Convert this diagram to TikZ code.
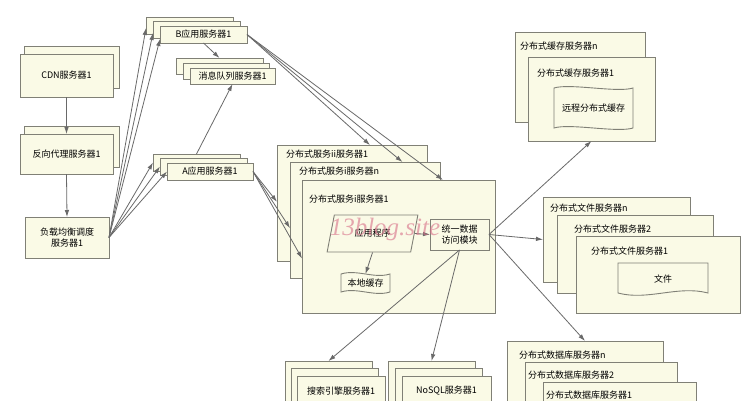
\documentclass[tikz,border=0pt]{standalone}
\usepackage{fontspec}
\setmainfont{Noto Sans CJK SC}
\newfontfamily\wmfont{Liberation Serif}
\usetikzlibrary{arrows.meta,shapes.geometric,calc}
\definecolor{cream}{RGB}{250,250,230}
\definecolor{edgec}{RGB}{128,128,118}
\definecolor{arrc}{RGB}{105,105,105}
\definecolor{wmc}{RGB}{215,110,135}
\newcommand\rbox[6]{\node[box,minimum width=#4pt,minimum height=#5pt] (#1) at (#2,#3) {#6};}
\newcommand\tapeshape[1]{\draw[outl] (#1.north west) .. controls +(16,-5) and +(-16,5) .. (#1.north east) -- (#1.south east) .. controls +(-16,5) and +(16,-5) .. (#1.south west) -- cycle;}
\begin{document}
\begin{tikzpicture}[x=1pt,y=-1pt,
  box/.style={draw=edgec,fill=cream,line width=0.9pt,inner sep=0pt,outer sep=0pt,anchor=north west,align=center,font=\fontsize{9}{11}\selectfont},
  outl/.style={draw=edgec,fill=cream,line width=0.9pt},
  lbl/.style={anchor=west,inner sep=0pt,font=\fontsize{9}{11}\selectfont},
  txt/.style={inner sep=0pt,outer sep=0pt,align=center,font=\fontsize{9}{11}\selectfont},
  conn/.style={draw=arrc,line width=0.8pt,-{Latex[length=7pt,width=4.5pt]}},
]
\useasboundingbox (0,0) rectangle (744,400);
\clip (0,0) rectangle (744,400);
\fill[white] (0,0) rectangle (744,400);

% left column
\rbox{cdnb}{24}{46}{95}{42}{}
\rbox{cdn}{20}{54}{93}{43}{CDN服务器1}
\rbox{pxb}{24}{126}{95}{41}{}
\rbox{px}{20}{134}{93}{40}{反向代理服务器1}
\rbox{lb}{25}{217}{84}{41}{负载均衡调度\\服务器1}

% B app servers
\rbox{bb3}{146}{17}{87}{17}{}
\rbox{bb2}{153}{21}{87}{17}{}
\rbox{bb1}{160}{26}{87}{17}{B应用服务器1}
% message queue
\rbox{mq3}{176}{58}{87}{16}{}
\rbox{mq2}{183}{63}{86}{16}{}
\rbox{mq1}{190}{68}{85}{16}{消息队列服务器1}
% A app servers
\rbox{ab3}{153}{154}{87}{17}{}
\rbox{ab2}{160}{158}{87}{17}{}
\rbox{ab1}{167}{163}{86}{17}{A应用服务器1}

% distributed service servers
\rbox{dii}{277}{145}{150}{116}{}
\node[lbl] (ldii) at (286,154) {分布式服务ii服务器1};
\rbox{dn}{290}{162}{150}{116}{}
\node[lbl] (ldn) at (299,171) {分布式服务i服务器n};
\rbox{d1}{302}{180}{193}{133}{}
\node[lbl] (ld1) at (309,199) {分布式服务i服务器1};
\node[trapezium,trapezium left angle=68,trapezium right angle=112,trapezium stretches=true,
  minimum width=91pt,minimum height=37pt,draw=edgec,fill=cream,line width=0.9pt,inner sep=0pt,
  font=\fontsize{9}{11}\selectfont] (app) at (372.5,233.5) {应用程序};
\rbox{uda}{430}{219}{59}{31}{统一数据\\访问模块}
\node[txt,minimum width=49pt,minimum height=18pt,anchor=north west] (lc) at (341,274) {};
\tapeshape{lc}
\node[txt] (lct) at (lc.center) {本地缓存};

% distributed cache
\rbox{cn}{515}{32}{130}{90}{}
\node[lbl] (lcn) at (520,46) {分布式缓存服务器n};
\rbox{c1}{528}{57}{127}{84}{}
\node[lbl] (lc1) at (537,73) {分布式缓存服务器1};
\node[txt,minimum width=79pt,minimum height=40pt,anchor=north west] (rc) at (554,88) {};
\tapeshape{rc}
\node[txt] (rct) at (rc.center) {远程分布式缓存};

% distributed file
\rbox{fn}{543}{197}{147}{85}{}
\node[lbl] (lfn) at (550,208) {分布式文件服务器n};
\rbox{f2}{557}{215}{156}{78}{}
\node[lbl] (lf2) at (574,229) {分布式文件服务器2};
\rbox{f1}{576}{236}{164}{77}{}
\node[lbl] (lf1) at (591,251) {分布式文件服务器1};
\node[txt,minimum width=90pt,minimum height=30pt,anchor=north west] (fd) at (618,263) {};
\draw[outl] (fd.south west) -- (fd.north west) -- (fd.north east) -- (fd.south east)
  .. controls +(-30,-8) and +(30,8) .. (fd.south west) -- cycle;
\node[txt] (fdt) at (663,279) {文件};

% distributed database
\rbox{dbn}{507}{341}{156}{80}{}
\node[lbl] (ldbn) at (519,355) {分布式数据库服务器n};
\rbox{db2}{525}{362}{152}{60}{}
\node[lbl] (ldb2) at (528,375) {分布式数据库服务器2};
\rbox{db1}{543}{382}{153}{40}{}
\node[lbl] (ldb1) at (546,395) {分布式数据库服务器1};

% search / nosql
\rbox{sb3}{285}{361}{87}{50}{}
\rbox{sb2}{291}{368}{87}{50}{}
\rbox{sb1}{297}{376}{88}{30}{搜索引擎服务器1}
\rbox{nb3}{388}{361}{87}{50}{}
\rbox{nb2}{395}{368}{87}{50}{}
\rbox{nb1}{402}{376}{89}{30}{NoSQL服务器1}

% connectors
\draw[conn] (cdn.south) -- (px.north);
\draw[conn] (px.south) -- (lb.north);
\draw[conn] (lb.east) -- ([yshift=-2.5pt]bb3.west);
\draw[conn] (lb.east) -- ([yshift=-3.5pt]bb2.west);
\draw[conn] (lb.east) -- ([yshift=-4.5pt]bb1.west);
\draw[conn] (lb.east) -- (ab3.west);
\draw[conn] (lb.east) -- (ab2.west);
\draw[conn] (lb.east) -- (ab1.west);
\draw[conn] (bb1.south) -- (mq3.north);
\draw[conn] (ab3.north) -- (mq1.south);
\draw[conn] (bb1.east) -- ($(dii.north west)!0.62!(dii.north east)$);
\draw[conn] (bb1.east) -- ($(dn.north west)!0.75!(dn.north east)$);
\draw[conn] (bb1.east) -- ($(d1.north west)!0.73!(d1.north east)$);
\draw[conn] (ab1.east) -- ($(dii.north west)!0.49!(dii.south west)$);
\draw[conn] (ab1.east) -- ($(dn.north west)!0.57!(dn.south west)$);
\draw[conn] (ab1.east) -- ($(d1.north west)!0.59!(d1.south west)$);
\draw[conn] (app.east) -- (uda.west);
\draw[conn] (app.south) -- (lc.north);
\draw[conn] (uda.east) -- (c1.south);
\draw[conn] (uda.east) -- (fn.west);
\draw[conn] (uda.east) -- (dbn.north);
\draw[conn] (uda.south) -- (sb3.north);
\draw[conn] (uda.south) -- (nb3.north);

% watermark
\node[font=\wmfont\itshape\fontsize{25}{25}\selectfont,text=wmc,opacity=0.6] (wmk) at (385,229) {13blog.site};
\end{tikzpicture}
\end{document}
